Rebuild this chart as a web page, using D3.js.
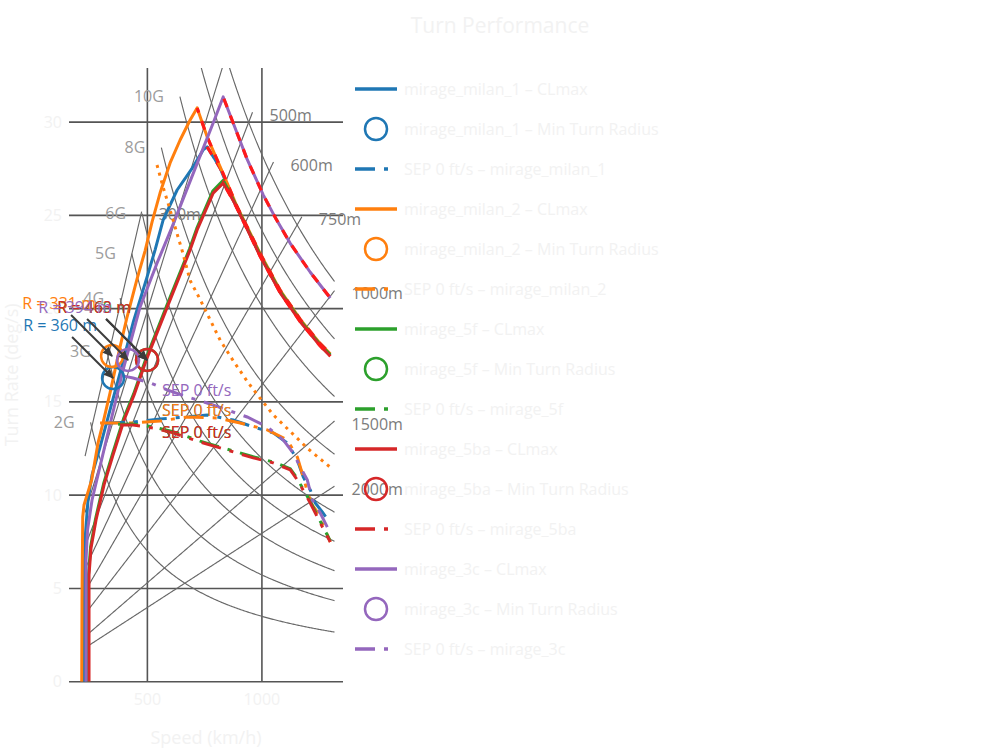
<!DOCTYPE html>
<html>
<head>
<meta charset="utf-8">
<script src="https://cdn.jsdelivr.net/npm/d3@7"></script>
<style>
    body { margin: 0; background: #fff; }
    svg { font-family: "Open Sans", sans-serif; }
</style>
</head>
<body>
<svg id="chart" width="1000" height="750"></svg>
<script>

// Data /////////////////////////////////////////

const aircraft = ["mirage_milan_1", "mirage_milan_2", "mirage_5f", "mirage_5ba", "mirage_3c"];
const colors = ["#1f77b4", "#ff7f0e", "#2ca02c", "#d62728", "#9467bd"];

const speedTicks = [500, 1000];
const rateTicks = [0, 5, 10, 15, 20, 25, 30];

// constant load factor lines and the speed (km/h) where each starts
const gLoads = [2, 3, 4, 5, 6, 8, 10, 12, 14];
const gStartSpeeds = [252, 323, 381, 432, 477, 561, 642, 712, 779];

// constant turn radius lines (m) and the load factor where each stops
const radii = [300, 400, 500, 600, 750, 1000, 1500, 2000];
const radiusEndG = [6, 14.5, 14.5, 14.5, 14.5, 14.5, 14.5, 14.5];
const isoSpeedMin = 228;
const isoSpeedMax = 1317;

// [speed km/h, turn rate deg/s]
const clmaxMilan1 = [[225.5, 0], [225.5, 6.53], [227.7, 7.6], [234.3, 8.67], [240.8, 9.74], [258.4, 11.08],
    [293.3, 12.58], [337, 14.57], [380.7, 16.55], [437.5, 19.24], [498.7, 21.7], [533.7, 23.15],
    [568.6, 24.75], [629.8, 26.36], [699.7, 27.6], [743.4, 28.51], [760.9, 28.67], [791.6, 28.07],
    [817.7, 27.53], [874.6, 25.83], [935.7, 24.3], [992.6, 22.85], [1080, 20.9], [1167.4, 19.35],
    [1254.8, 18.05], [1298.5, 17.5]];
const clmaxMilan2 = [[213.3, 0], [214.6, 4.38], [217.7, 8.83], [223.3, 9.47], [257, 10.82], [284.5, 12.8],
    [306.4, 13.87], [337, 15.48], [380.7, 17.95], [411.3, 19.55], [455, 21.59], [490, 23.1],
    [520.5, 24.65], [555.5, 26.21], [599.2, 27.81], [642.9, 29.04], [686.6, 30.11], [717.2, 30.76],
    [760.9, 29.21], [804.6, 27.97], [848.4, 26.73], [892.1, 25.45], [935.7, 24.38], [992.6, 22.95],
    [1080, 20.98], [1167.4, 19.42], [1254.8, 18.12], [1298.5, 17.58]];
const clmax5f = [[243, 0], [243, 5.75], [252, 7.22], [273.5, 8.72], [308.5, 10.6], [348, 12.22], [396, 14.1],
    [440, 15.43], [496.5, 17.42], [588.5, 20.28], [684.5, 23.22], [715.5, 24.3], [785.5, 26.3], [830.9, 26.88],
    [874.6, 25.86], [935.7, 24.32], [992.6, 22.88], [1080, 20.92], [1167.4, 19.37], [1254.8, 18.07],
    [1298.5, 17.52]];
const clmax5ba = [[245.2, 0], [245.2, 5.72], [254, 7.17], [275.8, 8.67], [310.8, 10.55], [350.2, 12.16],
    [398.3, 14.03], [442, 15.37], [498.7, 17.36], [590.5, 20.2], [686.6, 23.15], [717.2, 24.22],
    [787.2, 26.19], [830.9, 26.73], [874.6, 25.8], [935.7, 24.26], [992.6, 22.8], [1080, 20.85],
    [1167.4, 19.3], [1254.8, 18.0], [1298.5, 17.45]];
const clmax3c = [[232.1, 0], [232.1, 6.53], [238.7, 8.13], [258.4, 9.74], [323.9, 13.12], [393.8, 16.71],
    [468.1, 20.09], [542.4, 22.45], [608, 24.38], [730.3, 28.19], [787.2, 29.95], [830.9, 31.35],
    [874.6, 29.95], [935.7, 28.0], [1005.7, 26.1], [1062, 24.8], [1123.7, 23.5], [1211.1, 21.95],
    [1298.5, 20.57]];

const sepMilan1 = [[315, 13.82], [337, 13.87], [437.5, 13.92], [555.5, 14.09], [673.5, 14.19], [760.9, 14.3],
    [874.6, 14.03], [962, 13.66], [1049.4, 13.34], [1110.6, 12.8], [1154.3, 11.89], [1180.5, 10.98],
    [1211.1, 10.28], [1233, 9.58], [1263.5, 9.1], [1298.5, 8.51]];
const sepMilan2 = [[293.3, 13.87], [437.5, 13.87], [555.5, 13.98], [673.5, 14.19], [804.6, 14.14],
    [905.2, 13.87], [1023.1, 13.5], [1110.6, 12.96], [1154.3, 12.05], [1180.5, 10.98], [1202.4, 10.01],
    [1219.9, 9.47], [1241.7, 9.1], [1276.7, 8.13], [1298.5, 7.49]];
const sep5f = [[372, 13.8], [437.5, 13.82], [524.9, 13.66], [612.3, 13.4], [730.3, 12.9], [848.4, 12.47],
    [962, 12.06], [1049.4, 11.78], [1123.7, 11.42], [1154.3, 10.9], [1167.4, 10.6], [1211.1, 9.66],
    [1254.8, 8.6], [1298.5, 7.55]];
const sep5ba = [[380.7, 13.76], [437.5, 13.76], [524.9, 13.6], [612.3, 13.34], [730.3, 12.85], [848.4, 12.42],
    [962, 12], [1049.4, 11.73], [1123.7, 11.36], [1154.3, 10.82], [1167.4, 10.55], [1211.1, 9.58],
    [1254.8, 8.51], [1298.5, 7.49]];
const sep3c = [[398.3, 16.38], [437.5, 16.28], [511.8, 16.02], [586.1, 15.64], [673.5, 15.27], [760.9, 14.94],
    [848.4, 14.57], [935.7, 14.19], [1023.1, 13.66], [1093.1, 12.96], [1136.8, 12.26], [1167.4, 11.51],
    [1198, 10.82], [1219.9, 9.74], [1254.8, 9.04], [1285.4, 8.29]];

const milan2Dotted = [[542, 27.7], [569, 26.5], [599, 25.3], [630, 24.0], [652, 23.1], [687, 21.5], [730, 20.5],
    [774, 19.4], [818, 18.3], [875, 17.2], [936, 16.1], [979, 15.4], [1050, 14.3], [1100, 13.7],
    [1200, 12.5], [1298, 11.5]];

const minRadiusPoints = [[350.2, 16.28], [345.8, 17.46], [498.7, 17.25], [498.7, 17.25], [415.6, 17.25]];
const minRadiusValues = [360, 331, 460, 463, 394];
const sepLabelPoints = [[564, 14.57], [564, 14.57], [564, 13.39], [564, 13.39], [564, 15.64]];

const clmaxCurves = [clmaxMilan1, clmaxMilan2, clmax5f, clmax5ba, clmax3c];
const sepCurves = [sepMilan1, sepMilan2, sep5f, sep5ba, sep3c];

// Chart ////////////////////////////////////////

const svg = d3.select("#chart");
const light = "#f2f2f2";

const x = d3.scaleLinear().domain([157.8, 1354]).range([69, 343]);
const y = d3.scaleLinear().domain([0, 32.9]).range([681.7, 68]);
const [plotLeft, plotRight] = x.range();
const [plotBottom, plotTop] = y.range();

const line = d3.line().x(d => x(d[0])).y(d => y(d[1]));

const defs = svg.append("defs");
defs.append("clipPath").attr("id", "plot-clip")
    .append("rect")
    .attr("x", plotLeft).attr("y", plotTop)
    .attr("width", plotRight - plotLeft).attr("height", plotBottom - plotTop);
defs.append("marker")
    .attr("id", "arrow")
    .attr("markerUnits", "userSpaceOnUse")
    .attr("viewBox", "-10 -6 12 12")
    .attr("refX", 0).attr("refY", 0)
    .attr("markerWidth", 12).attr("markerHeight", 12)
    .attr("orient", "auto")
    .append("path")
    .attr("d", "M-9,-4.5L1,0L-9,4.5Z")
    .attr("fill", "#3c3c3c");

svg.append("text")
    .attr("x", 500).attr("y", 26).attr("dy", "0.35em")
    .attr("text-anchor", "middle")
    .attr("font-size", 21)
    .attr("fill", light)
    .text("Turn Performance");

// Grid and ticks ///////////////////////////////

const grid = svg.append("g").attr("stroke", "#555").attr("stroke-width", 1.6);
grid.selectAll(".vgrid").data(speedTicks).join("line")
    .attr("x1", d => x(d)).attr("x2", d => x(d))
    .attr("y1", plotTop).attr("y2", plotBottom);
grid.selectAll(".hgrid").data(rateTicks).join("line")
    .attr("x1", plotLeft).attr("x2", plotRight)
    .attr("y1", d => y(d)).attr("y2", d => y(d));

svg.append("g").selectAll("text").data(speedTicks).join("text")
    .attr("x", d => x(d)).attr("y", plotBottom + 18).attr("dy", "0.35em")
    .attr("text-anchor", "middle").attr("font-size", 16).attr("fill", light)
    .text(d => d);
svg.append("g").selectAll("text").data(rateTicks).join("text")
    .attr("x", plotLeft - 7).attr("y", d => y(d)).attr("dy", "0.35em")
    .attr("text-anchor", "end").attr("font-size", 16).attr("fill", light)
    .text(d => d);

svg.append("text")
    .attr("x", (plotLeft + plotRight) / 2).attr("y", 738).attr("dy", "0.35em")
    .attr("text-anchor", "middle").attr("font-size", 18).attr("fill", light)
    .text("Speed (km/h)");
svg.append("text")
    .attr("transform", `translate(12, ${(plotTop + plotBottom) / 2}) rotate(-90)`)
    .attr("dy", "0.35em")
    .attr("text-anchor", "middle").attr("font-size", 18).attr("fill", light)
    .text("Turn Rate (deg/s)");

// Reference lines //////////////////////////////

const g0 = 9.81, toDeg = 180 / Math.PI;
const rateAtLoad = (n, v) => g0 * Math.sqrt(n * n - 1) / (v / 3.6) * toDeg;
const rateAtRadius = (r, v) => (v / 3.6) / r * toDeg;
const sample = (a, b) => d3.range(a, b, 4).concat([b]);

const iso = svg.append("g").attr("clip-path", "url(#plot-clip)")
    .attr("fill", "none").attr("stroke", "#686868").attr("stroke-width", 1.15);
const isoLabels = svg.append("g").attr("font-size", 16);

gLoads.forEach((n, i) => {
    const v0 = gStartSpeeds[i];
    iso.append("path").attr("d", line(sample(v0, isoSpeedMax).map(v => [v, rateAtLoad(n, v)])));
    const w0 = rateAtLoad(n, v0);
    if (w0 <= y.domain()[1]) {
        isoLabels.append("text")
            .attr("x", x(v0) - 16).attr("y", y(w0)).attr("dy", "0.35em")
            .attr("text-anchor", "end").attr("fill", "#9c9c9c")
            .text(n + "G");
    }
});

radii.forEach((r, i) => {
    const n = radiusEndG[i];
    const vEnd = Math.min(isoSpeedMax, 3.6 * Math.sqrt(r * g0 * Math.sqrt(n * n - 1)));
    iso.append("path").attr("d", line(sample(isoSpeedMin, vEnd).map(v => [v, rateAtRadius(r, v)])));
    const wEnd = rateAtRadius(r, vEnd);
    if (wEnd <= y.domain()[1]) {
        isoLabels.append("text")
            .attr("x", x(vEnd) + 17).attr("y", y(wEnd) + 3).attr("dy", "0.35em")
            .attr("fill", "#7c7c7c")
            .text(r + "m");
    }
});

// Aircraft curves //////////////////////////////

const curves = svg.append("g").attr("clip-path", "url(#plot-clip)").attr("fill", "none");

clmaxCurves.forEach((pts, i) => {
    curves.append("path")
        .attr("d", line(pts))
        .attr("stroke", colors[i]).attr("stroke-width", 3)
        .attr("stroke-linejoin", "round");
    const peak = d3.maxIndex(pts, d => d[1]);
    curves.append("path")
        .attr("d", line(pts.slice(peak)))
        .attr("stroke", "#ff1a1a").attr("stroke-width", 3.2)
        .attr("stroke-dasharray", "9,9")
        .attr("stroke-dashoffset", i * 4);
});

curves.append("path")
    .attr("d", line(milan2Dotted))
    .attr("stroke", colors[1]).attr("stroke-width", 3)
    .attr("stroke-dasharray", "3,5");

sepCurves.forEach((pts, i) => {
    curves.append("path")
        .attr("d", line(pts))
        .attr("stroke", colors[i]).attr("stroke-width", 3)
        .attr("stroke-dasharray", "20,9,4,9");
});

curves.selectAll("circle").data(minRadiusPoints).join("circle")
    .attr("cx", d => x(d[0])).attr("cy", d => y(d[1])).attr("r", 11)
    .attr("fill", "none")
    .attr("stroke", (d, i) => colors[i]).attr("stroke-width", 2.5);

// Annotations //////////////////////////////////

const notes = svg.append("g").attr("font-size", 16);

sepLabelPoints.forEach((p, i) => {
    notes.append("text")
        .attr("x", x(p[0])).attr("y", y(p[1])).attr("dy", "0.35em")
        .attr("fill", colors[i])
        .text("SEP 0 ft/s");
});

minRadiusPoints.forEach((p, i) => {
    const cx = x(p[0]), cy = y(p[1]);
    const tx = cx - 53, ty = cy - 53;
    notes.append("line")
        .attr("x1", tx + 12).attr("y1", ty + 12)
        .attr("x2", cx).attr("y2", cy)
        .attr("stroke", "#3c3c3c").attr("stroke-width", 2)
        .attr("marker-end", "url(#arrow)");
    notes.append("text")
        .attr("x", tx).attr("y", ty).attr("dy", "0.35em")
        .attr("text-anchor", "middle")
        .attr("fill", colors[i])
        .text(`R = ${minRadiusValues[i]} m`);
});

// Legend ///////////////////////////////////////

const legend = svg.append("g").attr("transform", "translate(355, 89)");
const entries = [];
aircraft.forEach((name, i) => {
    entries.push({ kind: "line", color: colors[i], label: `${name} – CLmax` });
    entries.push({ kind: "circle", color: colors[i], label: `${name} – Min Turn Radius` });
    entries.push({ kind: "sep", color: colors[i], label: `SEP 0 ft/s – ${name}` });
});

entries.forEach((e, i) => {
    const row = legend.append("g").attr("transform", `translate(0, ${i * 40})`);
    if (e.kind === "circle") {
        row.append("circle").attr("cx", 21).attr("cy", 0).attr("r", 11)
            .attr("fill", "none").attr("stroke", e.color).attr("stroke-width", 2.5);
    } else {
        row.append("line").attr("x1", 0).attr("x2", 42).attr("y1", 0).attr("y2", 0)
            .attr("stroke", e.color).attr("stroke-width", 3.5)
            .attr("stroke-dasharray", e.kind === "sep" ? "20,9,4,9" : null);
    }
    row.append("text")
        .attr("x", 49).attr("y", 0).attr("dy", "0.35em")
        .attr("font-size", 16).attr("fill", light)
        .text(e.label);
});

</script>
</body>
</html>
